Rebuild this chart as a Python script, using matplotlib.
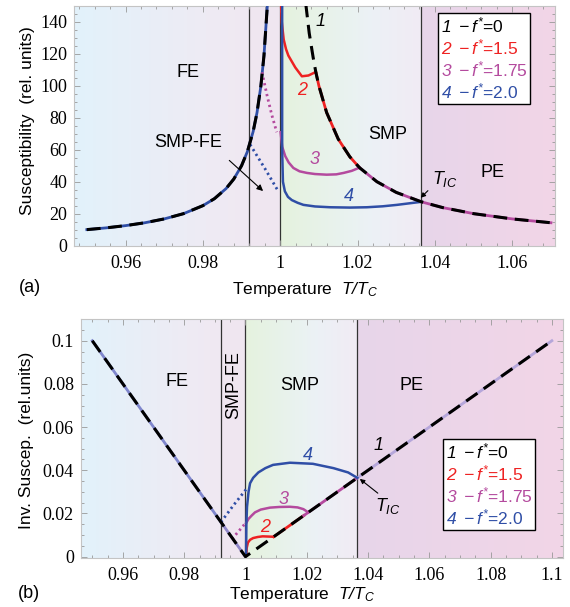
import numpy as np
import matplotlib
matplotlib.use("Agg")
import matplotlib.pyplot as plt
from matplotlib.ticker import MultipleLocator, FuncFormatter
from matplotlib.colors import to_rgb
from matplotlib.lines import Line2D

# tick labels are serif, everything else sans
plt.rcParams['font.family'] = ['Liberation Serif', 'DejaVu Serif']
plt.rcParams['mathtext.fontset'] = 'custom'
plt.rcParams['mathtext.rm'] = 'Liberation Sans:italic'
plt.rcParams['mathtext.it'] = 'Liberation Sans:italic'
SANS = ['Liberation Sans', 'DejaVu Sans']

# phase boundaries (T/Tc)
T_smpfe = 0.992
T_c = 1.0
T_ic = 1.0365

# ---------------- panel (a): susceptibility ----------------
# curve 1 (f*=0), ferroelectric branch and high temperature branch
T1a_lo = [0.95, 0.955, 0.96, 0.965, 0.97, 0.975, 0.98, 0.983, 0.986, 0.988, 0.99,
          0.9915, 0.993, 0.994, 0.995, 0.9958, 0.9967]
chi1a_lo = [10, 11.1, 12.5, 14.3, 16.7, 20, 25, 29.4, 35.7, 41.7, 50,
            58.8, 71.4, 83.3, 100, 119, 151.5]
T1a_hi = [1.0066, 1.0075, 1.0085, 1.0092, 1.01, 1.012, 1.015, 1.018, 1.0205, 1.025,
          1.03, 1.0365, 1.042, 1.05, 1.06, 1.07]
chi1a_hi = [151.5, 133, 118, 108.7, 100, 83.3, 66.7, 55.6, 48.8, 40,
            33.3, 27.4, 23.8, 20, 16.7, 14.3]

# curve 2 (f*=1.5)
T2a = [1.0002, 1.0004, 1.0009, 1.0015, 1.0021, 1.0039, 1.0056, 1.0073, 1.0086, 1.0092]
chi2a = [152, 140, 129, 123, 119, 111.5, 106, 106.5, 108, 108.7]

# curve 3 (f*=1.75)
T3a = [1.0001, 1.0005, 1.0013, 1.0022, 1.0034, 1.005, 1.0069, 1.009, 1.012,
       1.0145, 1.0164, 1.0185, 1.0205]
chi3a = [71, 62, 56, 52, 48.6, 46.5, 45.5, 44.8, 44.4, 44.6, 45.5, 46.8, 48.8]
T3a_dot = [0.9953, 0.9965, 0.9978, 0.9991]
chi3a_dot = [108.5, 95, 82, 71]

# curve 4 (f*=2.0)
T4a = [1.0005, 1.0005, 1.0007, 1.0012, 1.002, 1.003, 1.0045, 1.006, 1.009, 1.0129,
       1.018, 1.0224, 1.0265, 1.0302, 1.0335, 1.0365]
chi4a = [152, 60, 40, 34, 30.5, 28.5, 26.8, 25.5, 24.5, 24, 23.8, 24, 24.6, 25.5,
         26.5, 27.4]
T4a_dot = [0.9922, 0.9961, 0.9995]
chi4a_dot = [63.3, 48, 34]

# ---------------- panel (b): inverse susceptibility ----------------
T1b = [0.95, 1.0, 1.1]
inv1b = [0.1, 0.0, 0.1]

T2b = [1.0003, 1.0004, 1.0008, 1.0015, 1.0025, 1.004, 1.0056, 1.0075, 1.0092]
inv2b = [0.0005, 0.004, 0.0065, 0.0078, 0.0086, 0.0091, 0.0094, 0.0093, 0.0092]

T3b = [1.0002, 1.001, 1.002, 1.0031, 1.005, 1.008, 1.011, 1.0145, 1.017, 1.0189, 1.0205]
inv3b = [0.0155, 0.0175, 0.019, 0.0205, 0.0218, 0.0227, 0.023, 0.0231, 0.0228, 0.022, 0.0205]
T3b_dot = [0.9956, 0.9978, 1.0]
inv3b_dot = [0.0082, 0.0118, 0.0155]

T4b = [1.0002, 1.0003, 1.0005, 1.001, 1.0015, 1.0025, 1.0042, 1.0065, 1.009, 1.0145,
       1.022, 1.0287, 1.0335, 1.0365]
inv4b = [0.0005, 0.015, 0.023, 0.03, 0.034, 0.0365, 0.039, 0.041, 0.0425, 0.0435,
         0.043, 0.041, 0.039, 0.0365]
T4b_dot = [0.992, 0.9962, 1.0004]
inv4b_dot = [0.016, 0.024, 0.0315]

legend_labels = [r'$1\ -f^{*}$=0', r'$2\ -f^{*}$=1.5',
                 r'$3\ -f^{*}$=1.75', r'$4\ -f^{*}$=2.0']

c_red = '#ee2222'
c_mag = '#b44a9e'
c_blue = '#2f4ea6'
legend_colors = ['black', c_red, c_mag, c_blue]


def band(ax, x0, x1, stops, y0, y1):
    xs = np.linspace(0, 1, 200)
    pos = [s[0] for s in stops]
    cols = np.array([to_rgb(s[1]) for s in stops])
    img = np.zeros((1, 200, 3))
    for k in range(3):
        img[0, :, k] = np.interp(xs, pos, cols[:, k])
    ax.imshow(img, extent=[x0, x1, y0, y1], aspect='auto', zorder=0,
              interpolation='bilinear')


def backgrounds(ax, xmin, xmax, y0, y1):
    band(ax, xmin, T_smpfe, [(0, '#e2f2fb'), (0.75, '#eeebf4'), (1, '#f0e8f2')], y0, y1)
    band(ax, T_smpfe, T_c, [(0, '#f0e7f1'), (1, '#efe6f0')], y0, y1)
    band(ax, T_c, T_ic, [(0, '#e5f2de'), (0.45, '#e9f3ef'), (0.65, '#ecf1f6'),
                         (1, '#f1ebf4')], y0, y1)
    band(ax, T_ic, xmax, [(0, '#e7d6ea'), (1, '#f2d5e7')], y0, y1)
    for xv in (T_smpfe, T_c, T_ic):
        ax.axvline(xv, color='#333333', lw=0.9, zorder=1)


def style_axes(ax, xmaj, xmin_, ymaj, ymin_):
    ax.xaxis.set_major_locator(MultipleLocator(xmaj))
    ax.xaxis.set_minor_locator(MultipleLocator(xmin_))
    ax.yaxis.set_major_locator(MultipleLocator(ymaj))
    ax.yaxis.set_minor_locator(MultipleLocator(ymin_))
    fmt = FuncFormatter(lambda v, p: '{:g}'.format(round(v, 6)))
    ax.xaxis.set_major_formatter(fmt)
    ax.yaxis.set_major_formatter(fmt)
    ax.tick_params(which='both', direction='in', top=True, right=True,
                   color='#999999', width=0.6, labelsize=13,
                   labelfontfamily='Liberation Serif')
    ax.tick_params(which='major', length=4)
    ax.tick_params(which='minor', length=2)
    ax.tick_params(axis='x', pad=7)
    ax.tick_params(axis='y', pad=5)
    for s in ax.spines.values():
        s.set_color('#c4c4c4')
        s.set_linewidth(0.8)


def add_legend(ax, anchor):
    handles = [Line2D([], [], linestyle='none') for _ in legend_labels]
    leg = ax.legend(handles, legend_labels, loc='upper left', bbox_to_anchor=anchor,
                    handlelength=0, handletextpad=0, prop={'family': SANS, 'size': 12.5},
                    labelspacing=0.12, borderpad=0.15, borderaxespad=0,
                    fancybox=False, framealpha=1, edgecolor='black')
    leg.get_frame().set_linewidth(1.0)
    leg.set_zorder(10)
    for t, c in zip(leg.get_texts(), legend_colors):
        t.set_color(c)


def lbl(ax, x, y, s, color='black', italic=False, **kw):
    ax.text(x, y, s, fontsize=13, color=color, family=SANS,
            style='italic' if italic else 'normal', ha='center', va='center', **kw)


def sel(T, v, lo, hi):
    T = np.array(T)
    v = np.array(v)
    m = (T >= lo - 1e-9) & (T <= hi + 1e-9)
    return T[m], v[m]


dash = (4.5, 2.5)
fig = plt.figure(figsize=(5.7, 6.07), dpi=100)

# ================= panel (a) =================
ax = fig.add_axes([0.130, 0.5954, 0.844, 0.3947])
xa = (0.9467, 1.0711)
ya = (0, 150)
backgrounds(ax, xa[0], xa[1], ya[0], ya[1])

ax.plot(T1a_lo, chi1a_lo, color=c_blue, lw=2, zorder=3)
t, v = sel(T1a_hi, chi1a_hi, 1.0092, 1.0205)
ax.plot(t, v, color=c_red, lw=2, zorder=3)
t, v = sel(T1a_hi, chi1a_hi, 1.0205, 1.08)
ax.plot(t, v, color=c_mag, lw=2, zorder=3)
ax.plot(T2a, chi2a, color=c_red, lw=1.8, zorder=3)
ax.plot(T3a, chi3a, color=c_mag, lw=1.8, zorder=3)
ax.plot(T3a_dot, chi3a_dot, color=c_mag, lw=2, ls=(0, (0.8, 1.2)), zorder=3)
ax.plot(T4a, chi4a, color=c_blue, lw=1.8, zorder=3)
ax.plot(T4a_dot, chi4a_dot, color=c_blue, lw=2, ls=(0, (0.8, 1.2)), zorder=3)
ax.plot(T1a_lo, chi1a_lo, color='black', lw=2.2, dashes=dash, zorder=4)
ax.plot(T1a_hi, chi1a_hi, color='black', lw=2.2, dashes=dash, zorder=4)

ax.set_xlim(*xa)
ax.set_ylim(*ya)
style_axes(ax, 0.02, 0.004, 20, 5)

lbl(ax, 0.9762, 108.5, 'FE')
lbl(ax, 0.9762, 64.5, 'SMP-FE')
lbl(ax, 1.0278, 69.5, 'SMP')
lbl(ax, 1.055, 46, 'PE')
lbl(ax, 1.0425, 42, r'$T_{IC}$')
ax.annotate('', xy=(0.9961, 33), xytext=(0.9863, 54.5),
            arrowprops=dict(arrowstyle='-|>', color='black', lw=0.8, mutation_scale=9))
ax.annotate('', xy=(1.0358, 28.7), xytext=(1.0387, 35.6),
            arrowprops=dict(arrowstyle='-|>', color='black', lw=0.8, mutation_scale=7))
lbl(ax, 1.0104, 140, '1', italic=True)
lbl(ax, 1.0056, 97, '2', c_red, True)
lbl(ax, 1.0089, 54, '3', c_mag, True)
lbl(ax, 1.0177, 30.6, '4', c_blue, True)
add_legend(ax, (0.757, 0.971))

fig.text(28 / 570, 1 - 121 / 607, 'Susceptibility  (rel. units)', rotation=90,
         fontsize=12.5, family=SANS, ha='center', va='center')
fig.text(305 / 570, 1 - 289 / 607, r'Temperature  $T/T_C$', fontsize=12.5,
         family=SANS, ha='center', va='center')
fig.text(30 / 570, 1 - 287 / 607, '(a)', fontsize=13, family=SANS, ha='center', va='center')

# ================= panel (b) =================
bx = fig.add_axes([0.142, 0.0812, 0.845, 0.393])
xb = (0.9463, 1.1035)
yb = (-0.0005, 0.11)
backgrounds(bx, xb[0], xb[1], yb[0], yb[1])

bx.plot([0.95, T_smpfe], [0.1, 0.016], color='#7f86cc', lw=2, zorder=3)
bx.plot([T_smpfe, 1.0], [0.016, 0.0], color='#8f86c8', lw=2, zorder=3)
bx.plot([1.0092, 1.019], [0.0092, 0.019], color=c_red, lw=2, zorder=3)
bx.plot([1.019, T_ic], [0.019, 0.0365], color=c_mag, lw=2, zorder=3)
bx.plot([T_ic, 1.1], [0.0365, 0.1], color='#b5a6da', lw=2, zorder=3)
bx.plot(T2b, inv2b, color=c_red, lw=1.8, zorder=3)
bx.plot(T3b, inv3b, color=c_mag, lw=1.8, zorder=3)
bx.plot(T3b_dot, inv3b_dot, color=c_mag, lw=2, ls=(0, (0.8, 1.2)), zorder=3)
bx.plot(T4b, inv4b, color=c_blue, lw=1.8, zorder=3)
bx.plot(T4b_dot, inv4b_dot, color=c_blue, lw=2, ls=(0, (0.8, 1.2)), zorder=3)
bx.plot(T1b, inv1b, color='black', lw=2.2, dashes=dash, zorder=4)

bx.set_xlim(*xb)
bx.set_ylim(*yb)
style_axes(bx, 0.02, 0.005, 0.02, 0.005)

lbl(bx, 0.9776, 0.081, 'FE')
lbl(bx, 0.9962, 0.0795, 'SMP-FE', rotation=90)
lbl(bx, 1.0178, 0.0795, 'SMP')
lbl(bx, 1.0542, 0.0795, 'PE')
lbl(bx, 1.0433, 0.0517, '1', italic=True)
lbl(bx, 1.0205, 0.047, '4', c_blue, True)
lbl(bx, 1.0123, 0.0266, '3', c_mag, True)
lbl(bx, 1.0064, 0.0136, '2', c_red, True)
lbl(bx, 1.0465, 0.0235, r'$T_{IC}$')
bx.annotate('', xy=(1.0366, 0.0368), xytext=(1.0439, 0.0286),
            arrowprops=dict(arrowstyle='-|>', color='black', lw=0.8, mutation_scale=7))
add_legend(bx, (0.752, 0.496))

fig.text(27 / 570, 1 - 440 / 607, 'Inv. Suscep.  (rel.units)', rotation=90,
         fontsize=12.5, family=SANS, ha='center', va='center')
fig.text(302 / 570, 1 - 595 / 607, r'Temperature  $T/T_C$', fontsize=12.5,
         family=SANS, ha='center', va='center')
fig.text(29 / 570, 1 - 593 / 607, '(b)', fontsize=13, family=SANS, ha='center', va='center')

# make sure the tick labels end up in the serif face
fig.canvas.draw()
for a in (ax, bx):
    for lab in a.get_xticklabels() + a.get_yticklabels():
        lab.set_fontfamily('Liberation Serif')

fig.savefig('out.png', dpi=100)
